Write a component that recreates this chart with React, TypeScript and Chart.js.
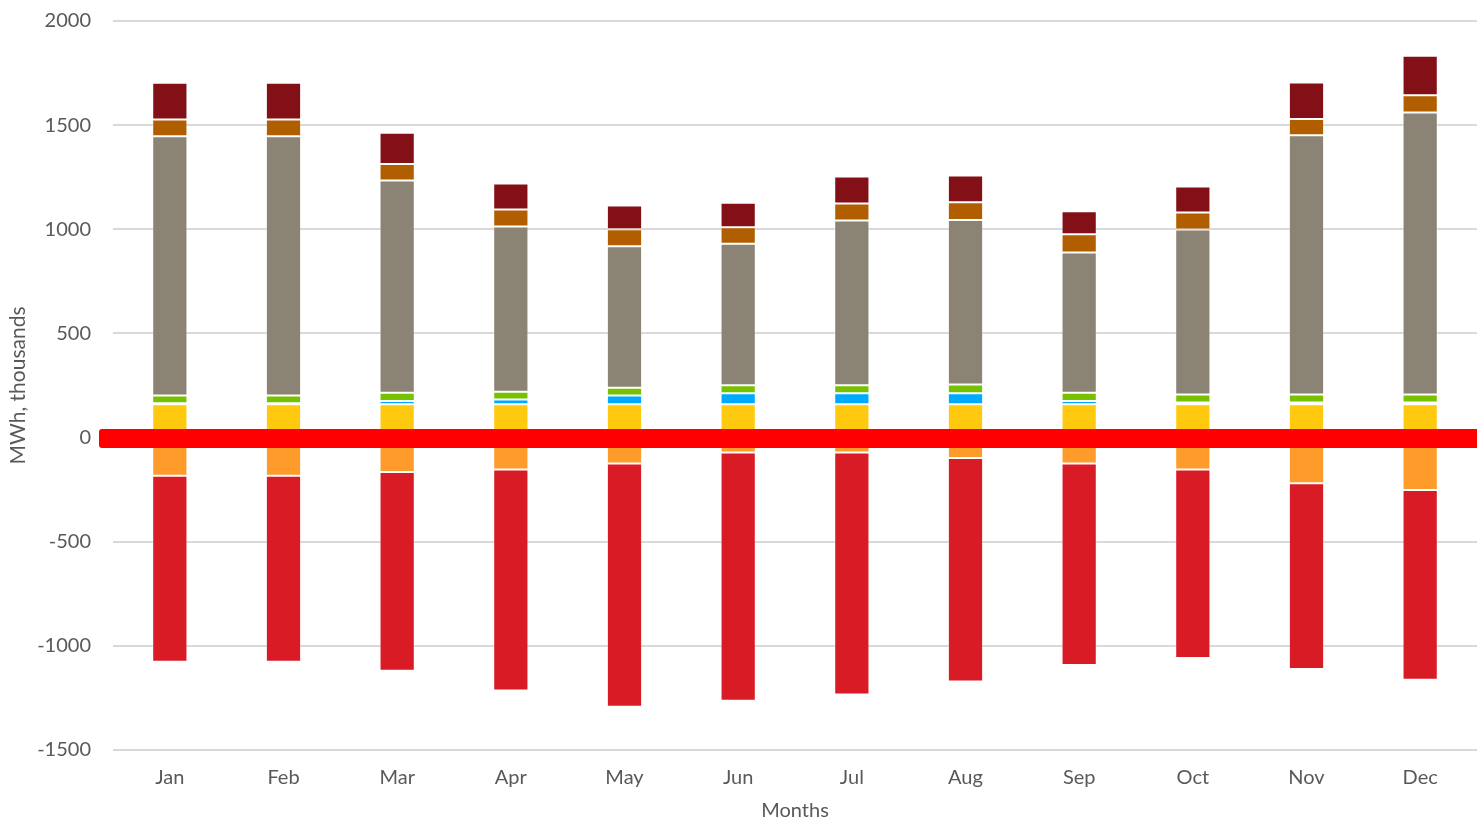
import React, { useEffect, useRef } from "react";
import { Chart, registerables } from "chart.js";

Chart.register(...registerables);

const months = ["Jan", "Feb", "Mar", "Apr", "May", "Jun", "Jul", "Aug", "Sep", "Oct", "Nov", "Dec"];

// positive stack (bottom to top)
const yellowSeries = [160, 160, 160, 160, 160, 160, 160, 160, 160, 160, 160, 160];
const blueSeries = [5, 5, 15, 23, 42, 53, 53, 53, 15, 8, 8, 8];
const greenSeries = [37, 37, 40, 37, 37, 38, 38, 42, 40, 39, 39, 39];
const greySeries = [1245, 1245, 1019, 793, 679, 680, 791, 790, 674, 792, 1244, 1354];
const brownSeries = [80, 80, 79, 82, 82, 79, 82, 85, 87, 81, 79, 83];
const darkRedSeries = [176, 176, 150, 125, 114, 118, 129, 128, 111, 125, 175, 189];

// negative stack (from zero downward)
const orangeSeries = [-183, -183, -165, -153, -125, -72, -72, -98, -125, -153, -219, -252];
const redSeries = [-893, -893, -954, -1061, -1167, -1192, -1161, -1073, -967, -905, -892, -911];

const yTicks = [-1500, -1000, -500, 0, 500, 1000, 1500, 2000];

const FONT = "Lato, 'DejaVu Sans', sans-serif";
const TEXT = "#595959";

const zeroLinePlugin = {
  id: "zeroLine",
  afterDatasetsDraw(chart: any) {
    const { ctx, chartArea, scales } = chart;
    const y = scales.y.getPixelForValue(0);
    const x0 = chartArea.left - 14;
    const h = 19;
    ctx.save();
    ctx.fillStyle = "#FF0000";
    ctx.beginPath();
    if (ctx.roundRect) ctx.roundRect(x0, y - h / 2 + 1, chart.width - x0, h, [3, 0, 0, 3]);
    else ctx.rect(x0, y - h / 2 + 1, chart.width - x0, h);
    ctx.fill();
    ctx.restore();
  },
};

function ds(label: string, data: number[], color: string) {
  return {
    label,
    data,
    backgroundColor: color,
    borderColor: "rgba(255,255,255,0.3)",
    borderWidth: 1,
    borderSkipped: false,
    stack: "s",
    categoryPercentage: 1,
    barPercentage: 0.31,
  };
}

export default function App() {
  const ref = useRef<HTMLCanvasElement | null>(null);
  useEffect(() => {
    document.body.style.margin = "0";
    const chart = new Chart(ref.current as HTMLCanvasElement, {
      type: "bar",
      data: {
        labels: months,
        datasets: [
          ds("Yellow", yellowSeries, "#FFC90F"),
          ds("Blue", blueSeries, "#00AAFF"),
          ds("Green", greenSeries, "#77C100"),
          ds("Grey", greySeries, "#8B8373"),
          ds("Brown", brownSeries, "#B05E00"),
          ds("Dark red", darkRedSeries, "#841017"),
          ds("Orange", orangeSeries, "#FF9B2A"),
          ds("Red", redSeries, "#D91B26"),
        ],
      },
      options: {
        animation: false,
        responsive: true,
        maintainAspectRatio: false,
        layout: { padding: { top: 21, left: 0, right: 0, bottom: 0 } },
        plugins: { legend: { display: false }, tooltip: { enabled: false }, title: { display: false } },
        scales: {
          x: {
            stacked: true,
            grid: { display: false, drawTicks: false },
            border: { display: false },
            ticks: { color: TEXT, font: { family: FONT, size: 20 }, padding: 16 },
            title: { display: true, text: "Months", color: TEXT, font: { family: FONT, size: 20 }, padding: { top: 0, bottom: -1 } },
            afterFit: (s: any) => { s.height = 72; s.paddingLeft = 0; s.paddingRight = 0; },
          },
          y: {
            stacked: true,
            min: -1500,
            max: 2000,
            afterBuildTicks: (s: any) => { s.ticks = yTicks.map((v) => ({ value: v })); },
            grid: { color: "#D9D9D9", lineWidth: 2, drawTicks: false },
            border: { display: false },
            ticks: { color: TEXT, font: { family: FONT, size: 20 }, padding: 22, callback: (v: any) => String(v) },
            title: { display: true, text: "MWh, thousands", color: TEXT, font: { family: FONT, size: 21 }, padding: { top: 6, bottom: 0 } },
            afterFit: (s: any) => { s.width = 113; s.paddingTop = 0; s.paddingBottom = 0; },
          },
        },
      },
      plugins: [zeroLinePlugin],
    });
    return () => chart.destroy();
  }, []);
  return (
    <div style={{ width: 1477, height: 822, position: "relative" }}>
      <canvas ref={ref} />
    </div>
  );
}
